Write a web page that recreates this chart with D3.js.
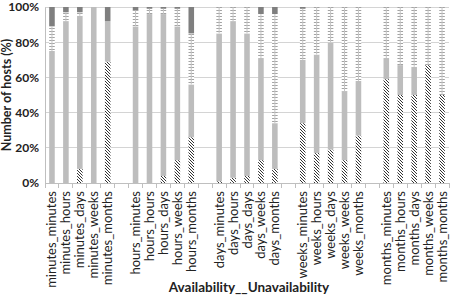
<!DOCTYPE html>
<html><head><meta charset="utf-8">
<script src="https://cdn.jsdelivr.net/npm/d3@7"></script>
<style>body{margin:0;background:#fff}svg{display:block}</style>
</head><body>
<script>
const groups = ["minutes","hours","days","weeks","months"];
const categories = [
 "minutes_minutes","minutes_hours","minutes_days","minutes_weeks","minutes_months",
 "hours_minutes","hours_hours","hours_days","hours_weeks","hours_months",
 "days_minutes","days_hours","days_days","days_weeks","days_months",
 "weeks_minutes","weeks_hours","weeks_days","weeks_weeks","weeks_months",
 "months_minutes","months_hours","months_days","months_weeks","months_months"];
const hatchedVals = [0,0,8,0,69, 0,0,4,13,26, 1,3,4,13,8, 34,17,19,13,27, 59,50,50,67,50];
const grayVals    = [75,92,87,100,23, 89,96,92,76,30, 84,89,81,58,26, 36,56,61,39,31, 12,17,16,0,0];
const dashedVals  = [14,5,2,0,0, 9,3,3,10,29, 15,8,15,25,62, 29,27,20,48,42, 29,33,34,33,50];
const darkVals    = [11,3,3,0,8, 2,1,1,1,15, 0,0,0,4,4, 1,0,0,0,0, 0,0,0,0,0];
const yTicks = [0,20,40,60,80,100];
const seriesKeys = ["hatched","gray","dashed","dark"];

const W=451,H=296, m={l:45,r:2,t:7,b:113};
const FONT="Lato, 'Open Sans', sans-serif";
const svg=d3.select("body").append("svg").attr("width",W).attr("height",H);
const defs=svg.append("defs");
const ph=defs.append("pattern").attr("id","hatch").attr("patternUnits","userSpaceOnUse")
  .attr("width",3).attr("height",3);
ph.append("rect").attr("width",3).attr("height",3).attr("fill","#fff");
ph.append("path").attr("d","M-1,-1 L4,4 M-1,2 L1,4 M2,-1 L4,1").attr("stroke","#333").attr("stroke-width",1);
const pd=defs.append("pattern").attr("id","dash").attr("patternUnits","userSpaceOnUse")
  .attr("width",20).attr("height",3);
pd.append("rect").attr("width",20).attr("height",3).attr("fill","#fff");
pd.append("rect").attr("y",1).attr("width",20).attr("height",1).attr("fill","#a3a3a3");

// slot domain: groups of 5 with a gap between groups
const slots=[];
groups.forEach((g,i)=>{
  if(i>0) slots.push("gap"+i);
  categories.filter(c=>c.startsWith(g+"_")).forEach(c=>slots.push(c));
});
const x=d3.scaleBand().domain(slots).range([m.l,W-m.r]).paddingInner(0.6).paddingOuter(0.3);
const y=d3.scaleLinear().domain([0,100]).range([H-m.b,m.t]);

// gridlines
svg.append("g").selectAll("line").data(yTicks.filter(d=>d>0)).join("line")
  .attr("x1",m.l).attr("x2",W-m.r).attr("y1",d=>y(d)).attr("y2",d=>y(d))
  .attr("stroke","#d4d4d4").attr("stroke-width",1).attr("shape-rendering","crispEdges");

const table=categories.map((c,i)=>({cat:c,hatched:hatchedVals[i],gray:grayVals[i],dashed:dashedVals[i],dark:darkVals[i]}));
const stack=d3.stack().keys(seriesKeys)(table);
const fills={hatched:"url(#hatch)",gray:"#bdbdbd",dashed:"url(#dash)",dark:"#7f7f7f"};
svg.append("g").selectAll("g").data(stack).join("g").attr("fill",d=>fills[d.key])
  .selectAll("rect").data(d=>d).join("rect")
  .attr("x",d=>x(d.data.cat)).attr("width",x.bandwidth())
  .attr("y",d=>y(d[1])).attr("height",d=>y(d[0])-y(d[1]));
// centre spine of dashed segments
const dashedLayer=stack.find(s=>s.key==="dashed");
svg.append("g").selectAll("line").data(dashedLayer.filter(d=>d[1]>d[0])).join("line")
  .attr("x1",d=>x(d.data.cat)+x.bandwidth()/2).attr("x2",d=>x(d.data.cat)+x.bandwidth()/2)
  .attr("y1",d=>y(d[1])).attr("y2",d=>y(d[0])).attr("stroke","#c4c4c4").attr("stroke-width",1);

// y axis
const yAx=svg.append("g").attr("transform",`translate(${m.l},0)`)
  .call(d3.axisLeft(y).tickValues(yTicks).tickFormat(d=>d+"%").tickSize(0).tickPadding(6));
yAx.select(".domain").attr("stroke","#bfbfbf");
yAx.selectAll("text").attr("font-family",FONT).attr("font-size",12)
  .attr("font-weight","bold").attr("fill","#222");

// x axis line + boundary ticks
const xg=svg.append("g");
xg.append("line").attr("x1",m.l).attr("x2",W-m.r).attr("y1",y(0)).attr("y2",y(0))
  .attr("stroke","#bfbfbf").attr("shape-rendering","crispEdges");
const step=x.step();
const bounds=d3.range(slots.length+1).map(i=>x(slots[0])-x.paddingInner()*step/2+i*step);
xg.selectAll("line.t").data(bounds).join("line").attr("class","t")
  .attr("x1",d=>d).attr("x2",d=>d).attr("y1",y(0)).attr("y2",y(0)+5)
  .attr("stroke","#bfbfbf").attr("shape-rendering","crispEdges");
xg.selectAll("text").data(categories).join("text")
  .attr("transform",d=>`translate(${x(d)+x.bandwidth()/2+4.5},${y(0)+8}) rotate(-90)`)
  .attr("text-anchor","end").attr("font-family",FONT)
  .attr("font-size",13).attr("fill","#222").text(d=>d);

// titles
svg.append("text").attr("x",(m.l+W-m.r)/2+2).attr("y",H-4).attr("text-anchor","middle")
  .attr("font-family",FONT).attr("font-size",13.5).attr("font-weight","bold")
  .attr("fill","#222").text("Availability__Unavailability");
svg.append("text").attr("transform",`translate(11,${(m.t+y(0))/2}) rotate(-90)`).attr("text-anchor","middle")
  .attr("font-family",FONT).attr("font-size",12.5).attr("font-weight","bold")
  .attr("fill","#222").text("Number of hosts (%)");
</script>
</body></html>
